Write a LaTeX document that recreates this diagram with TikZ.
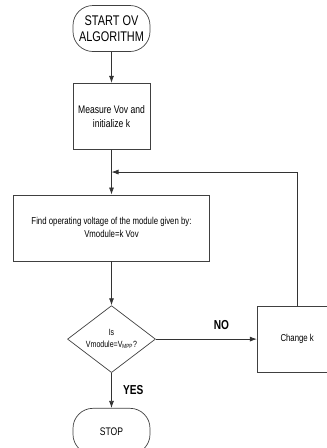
\documentclass[tikz,border=0pt]{standalone}
\usepackage{fontspec}
\setmainfont[FakeStretch=0.78]{Liberation Sans}
\usetikzlibrary{positioning,arrows.meta,calc,shapes.geometric}

\begin{document}
\begin{tikzpicture}[
      >={Latex[length=7pt,width=5pt]},
      x=1pt, y=1pt,
      node distance=30pt
    ]

    \tikzstyle{term} = [rectangle, rounded corners=20pt, minimum width=77pt, minimum height=46pt, align=center, draw=black!75, line width=0.7pt]
    \tikzstyle{box} = [rectangle, minimum height=66pt, align=center, draw=black!75, line width=0.7pt, font=\fontsize{10}{13}\selectfont]
    \tikzstyle{arrow} = [->, draw=black!80, line width=0.7pt]
    \tikzstyle{answer} = [font=\fontsize{13}{14}\selectfont\bfseries]

    \useasboundingbox (0,0) rectangle (327,-448);

    \node [term, font=\fontsize{14}{16}\selectfont] (start) at (111.5,-28.5) {START OV\\ALGORITHM};
    \node [box, minimum width=77pt, font=\fontsize{11}{14}\selectfont] (measure) [node distance=31pt, below=of start] {Measure Vov and\\initialize k};
    \node [box, minimum width=196pt] (find) [node distance=45pt, below=of measure] {Find operating voltage of the module given by:\\Vmodule=k Vov};
    \node [diamond, draw=black!75, line width=0.7pt, minimum width=88pt, minimum height=67pt, inner sep=0pt] (check) [node distance=44pt, below=of find] {};
    \node [font=\fontsize{9}{12}\selectfont, align=center] (checkText) at (check) {Is\\Vmodule=V\textsubscript{MPP}?};
    \node [term, font=\fontsize{11}{13}\selectfont] (stop) [node distance=35pt, below=of check] {STOP};
    \node [box, minimum width=80pt] (change) [node distance=101pt, right=of check] {Change k};

    \coordinate (merge) at ($(measure.south)!0.5!(find.north)$);

    \draw [arrow] (start) -- (measure);
    \draw [arrow] (measure) -- (find);
    \draw [arrow] (find) -- (check);
    \draw [arrow] (check) -- (stop) node [answer, right, pos=0.5, xshift=8pt] {YES};
    \draw [arrow] (check) -- (change) node [answer, above, pos=0.65, yshift=6pt] {NO};
    \draw [arrow] (change.north) |- (merge);

\end{tikzpicture}
\end{document}
